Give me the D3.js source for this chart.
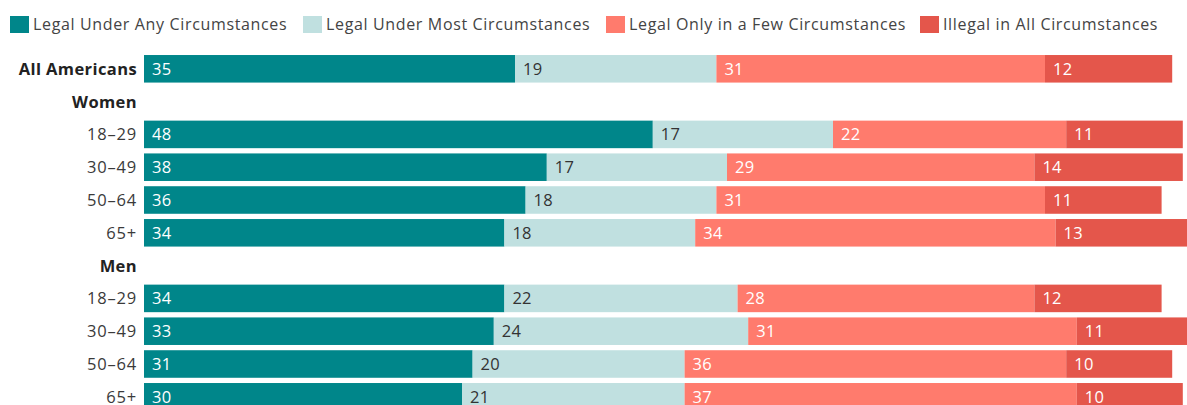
<!DOCTYPE html>
<meta charset="utf-8">
<style>
    body { margin: 0; background: #fff; }
    text { font-family: "Open Sans", Lato, sans-serif; }
    .cat { font-size: 16.5px; fill: #3a3a3a; text-anchor: end; letter-spacing: 0.8px; }
    .cat.bold { font-weight: 700; fill: #222; letter-spacing: 0.4px; }
    .val { font-size: 16.5px; letter-spacing: 0.3px; }
    .legend text { font-size: 16px; fill: #444; letter-spacing: 0.65px; }
</style>

<body>
    <svg width="1187" height="405"></svg>
    <script src="https://d3js.org/d3.v7.min.js"></script>
    <script>
        // rows top to bottom, null values = group heading
        var rows = ["All Americans", "Women", "W 18–29", "W 30–49", "W 50–64", "W 65+",
                    "Men", "M 18–29", "M 30–49", "M 50–64", "M 65+"];
        var rowLabels = ["All Americans", "Women", "18–29", "30–49", "50–64", "65+",
                         "Men", "18–29", "30–49", "50–64", "65+"];
        var boldRows = ["All Americans", "Women", "Men"];

        var series = ["Legal Under Any Circumstances", "Legal Under Most Circumstances",
                      "Legal Only in a Few Circumstances", "Illegal in All Circumstances"];
        var colors = ["#00868a", "#c0e0e0", "#ff7b6d", "#e4564b"];
        var textColors = ["#fff", "#333", "#fff", "#fff"];

        var anyVals  = [35, null, 48, 38, 36, 34, null, 34, 33, 31, 30];
        var mostVals = [19, null, 17, 17, 18, 18, null, 22, 24, 20, 21];
        var fewVals  = [31, null, 22, 29, 31, 34, null, 28, 31, 36, 37];
        var illVals  = [12, null, 11, 14, 11, 13, null, 12, 11, 10, 10];

        var svg = d3.select("svg");

        var x = d3.scaleLinear().domain([0, 100]).range([144, 1204]);
        var y = d3.scaleBand().domain(rows)
            .range([52.4, 52.4 + 32.8 * 11])
            .paddingInner(0.16).paddingOuter(0.08);

        var data = [];
        rows.forEach(function (r, i) {
            var vals = [anyVals[i], mostVals[i], fewVals[i], illVals[i]];
            if (vals[0] === null) return;
            var acc = 0;
            vals.forEach(function (v, k) {
                data.push({ row: r, k: k, v: v, x0: acc, x1: acc + v });
                acc += v;
            });
        });

        var g = svg.append("g");

        g.selectAll(".seg")
            .data(data)
            .enter().append("rect")
            .attr("class", "seg")
            .attr("x", function (d) { return x(d.x0); })
            .attr("y", function (d) { return y(d.row); })
            .attr("width", function (d) { return x(d.x1) - x(d.x0); })
            .attr("height", y.bandwidth())
            .attr("fill", function (d) { return colors[d.k]; });

        g.selectAll(".val")
            .data(data)
            .enter().append("text")
            .attr("class", "val")
            .attr("x", function (d) { return x(d.x0) + 8; })
            .attr("y", function (d) { return y(d.row) + y.bandwidth() / 2; })
            .attr("dy", "0.36em")
            .attr("fill", function (d) { return textColors[d.k]; })
            .text(function (d) { return d.v; });

        g.selectAll(".cat")
            .data(rows)
            .enter().append("text")
            .attr("class", function (d) { return boldRows.indexOf(d) >= 0 ? "cat bold" : "cat"; })
            .attr("x", 137)
            .attr("y", function (d) { return y(d) + y.bandwidth() / 2; })
            .attr("dy", "0.36em")
            .text(function (d, i) { return rowLabels[i]; });

        // legend
        var legX = [10, 303, 606, 920];
        var leg = svg.append("g").attr("class", "legend")
            .selectAll("g")
            .data(series)
            .enter().append("g")
            .attr("transform", function (d, i) { return "translate(" + legX[i] + ",0)"; });

        leg.append("rect")
            .attr("y", 16)
            .attr("width", 19)
            .attr("height", 17)
            .attr("fill", function (d, i) { return colors[i]; });

        leg.append("text")
            .attr("x", 23)
            .attr("y", 24)
            .attr("dy", "0.36em")
            .text(function (d) { return d; });
    </script>
</body>
